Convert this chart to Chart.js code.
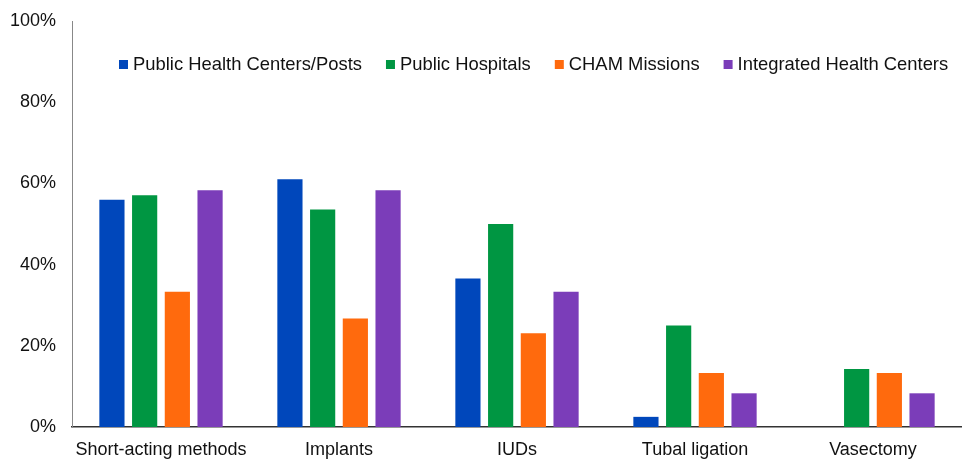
<!DOCTYPE html>
<html>
<head>
<meta charset="utf-8">
<script src="https://cdn.jsdelivr.net/npm/chart.js@4.4.1/dist/chart.umd.min.js"></script>
<style>
html,body{margin:0;padding:0;background:#fff;overflow:hidden;}
#wrap{width:962px;height:460px;position:relative;}
canvas{display:block;}
</style>
</head>
<body>
<div id="wrap"><canvas id="c"></canvas></div>
<script>
const categories = ["Short-acting methods", "Implants", "IUDs", "Tubal ligation", "Vasectomy"];
const publicHealthCenters = [56, 61, 36.6, 2.5, 0];
const publicHospitals = [57.1, 53.6, 50, 25, 14.3];
const chamMissions = [33.3, 26.7, 23.1, 13.3, 13.3];
const integratedHealthCenters = [58.3, 58.3, 33.3, 8.3, 8.3];
const yTicks = [0, 20, 40, 60, 80, 100];

const FONT = "'Liberation Sans', Arial, Helvetica, sans-serif";
const mk = (label, data, color) => ({
  label, data, backgroundColor: color, borderColor: color, borderWidth: 0,
  categoryPercentage: 0.735, barPercentage: 0.77
});

const insideLegend = {
  id: 'insideLegend',
  afterDraw(chart) {
    const ctx = chart.ctx;
    ctx.save();
    ctx.font = "18.4px " + FONT;
    ctx.textBaseline = 'middle';
    ctx.textAlign = 'left';
    let x = 119;
    const yc = 64.5;
    chart.data.datasets.forEach(ds => {
      ctx.fillStyle = ds.backgroundColor;
      ctx.fillRect(x, yc - 4.5, 9, 9);
      ctx.fillStyle = '#111';
      const tx = x + 14;
      ctx.fillText(ds.label, tx, yc);
      x = tx + ctx.measureText(ds.label).width + 24;
    });
    ctx.restore();
  }
};

new Chart(document.getElementById('c'), {
  type: 'bar',
  data: {
    labels: categories,
    datasets: [
      mk("Public Health Centers/Posts", publicHealthCenters, "#0047BB"),
      mk("Public Hospitals", publicHospitals, "#009642"),
      mk("CHAM Missions", chamMissions, "#FF6A0D"),
      mk("Integrated Health Centers", integratedHealthCenters, "#7B3DB9")
    ]
  },
  plugins: [insideLegend],
  options: {
    responsive: true,
    maintainAspectRatio: false,
    animation: false,
    layout: { padding: { top: 21, right: 0, left: 0, bottom: 0 } },
    plugins: {
      legend: { display: false },
      tooltip: { enabled: false }
    },
    scales: {
      x: {
        afterFit: (s) => { s.height = 33; },
        grid: { display: false, drawTicks: false },
        border: { display: true, color: '#333', width: 1.5 },
        ticks: { font: { family: FONT, size: 18 }, color: '#111', padding: 12, maxRotation: 0, autoSkip: false }
      },
      y: {
        min: 0, max: 100,
        afterFit: (s) => { s.width = 72; s.paddingTop = 0; s.paddingBottom = 0; },
        afterBuildTicks: (s) => { s.ticks = yTicks.map(v => ({ value: v })); },
        grid: { display: false, drawTicks: false },
        border: { display: true, color: '#888', width: 1 },
        ticks: { font: { family: FONT, size: 18 }, color: '#111', padding: 16,
          callback: (v) => v + '%' }
      }
    }
  }
});
</script>
</body>
</html>
